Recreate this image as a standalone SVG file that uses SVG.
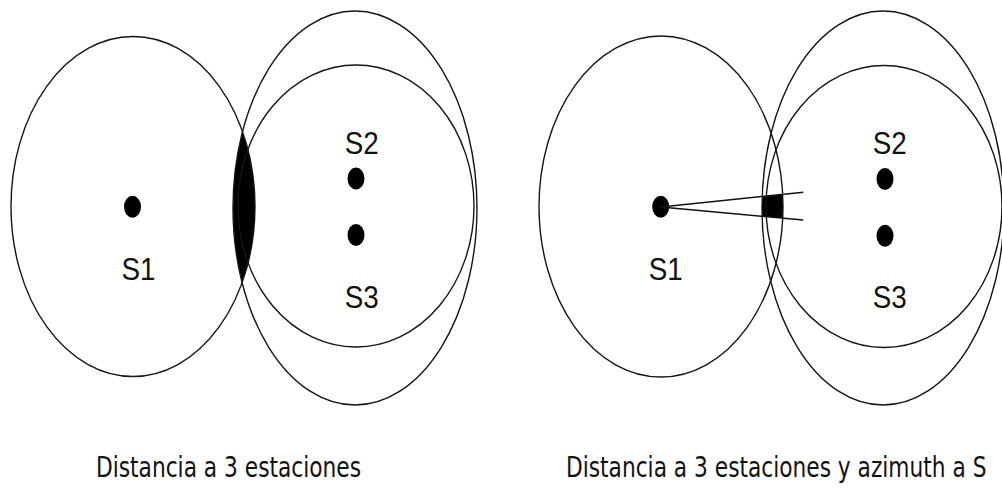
<svg xmlns="http://www.w3.org/2000/svg" width="1002" height="488" viewBox="0 0 1002 488">
  <style>
    .ring { fill: none; stroke: #151515; stroke-width: 1.4; }
    .dot { fill: #000; }
    .lbl { font-family: "Liberation Sans", Arial, sans-serif; font-size: 31px; fill: #111; }
    .cap { font-family: "DejaVu Sans", Verdana, sans-serif; font-size: 28px; fill: #111; }
    .ray { stroke: #111; stroke-width: 1.5; fill: none; }
  </style>
  <defs>
    <clipPath id="clipS1L"><ellipse cx="133" cy="206.5" rx="122" ry="170"/></clipPath>
    <clipPath id="clipS1R"><ellipse cx="661" cy="206.5" rx="122" ry="170.5"/></clipPath>
    <clipPath id="clipS2R"><ellipse cx="883" cy="208" rx="121" ry="197"/></clipPath>
  </defs>
  <rect width="1002" height="488" fill="#fff"/>

  <g id="panel-left">
    <g id="lens-left">
      <ellipse cx="355" cy="208" rx="122" ry="197" fill="#000" clip-path="url(#clipS1L)"/>
    </g>
    <g id="L-S1">
      <ellipse class="ring" cx="133" cy="206.5" rx="122" ry="170"/>
      <ellipse class="dot" cx="132.5" cy="206.7" rx="8.5" ry="11"/>
      <text class="lbl" x="121.4" y="279.5" textLength="34" lengthAdjust="spacingAndGlyphs">S1</text>
    </g>
    <g id="L-S2">
      <ellipse class="ring" cx="355" cy="208" rx="122" ry="197"/>
      <ellipse class="dot" cx="356" cy="178.5" rx="8.5" ry="11"/>
      <text class="lbl" x="344.7" y="153.5" textLength="34" lengthAdjust="spacingAndGlyphs">S2</text>
    </g>
    <g id="L-S3">
      <ellipse class="ring" cx="356" cy="206" rx="118" ry="141"/>
      <ellipse class="dot" cx="356" cy="235" rx="8.5" ry="11"/>
      <text class="lbl" x="344.7" y="308" textLength="34" lengthAdjust="spacingAndGlyphs">S3</text>
    </g>
    <text id="cap-left" class="cap" transform="translate(96,477.3) scale(0.776,1)">Distancia a 3 estaciones</text>
  </g>

  <g id="panel-right">
    <g id="wedge-area" clip-path="url(#clipS1R)">
      <polygon points="661,207 803,192.3 803,220" fill="#000" clip-path="url(#clipS2R)"/>
    </g>
    <g id="R-S1">
      <ellipse class="ring" cx="661" cy="206.5" rx="122" ry="170.5"/>
      <ellipse class="dot" cx="660.7" cy="206.7" rx="8.5" ry="11"/>
      <text class="lbl" x="648.7" y="280" textLength="34" lengthAdjust="spacingAndGlyphs">S1</text>
    </g>
    <g id="R-S2">
      <ellipse class="ring" cx="883" cy="208" rx="121" ry="197"/>
      <ellipse class="dot" cx="885" cy="179" rx="8.5" ry="11"/>
      <text class="lbl" x="872.7" y="154" textLength="34" lengthAdjust="spacingAndGlyphs">S2</text>
    </g>
    <g id="R-S3">
      <ellipse class="ring" cx="884" cy="206.5" rx="118" ry="141"/>
      <ellipse class="dot" cx="885" cy="235.7" rx="8.5" ry="11"/>
      <text class="lbl" x="872.7" y="308" textLength="34" lengthAdjust="spacingAndGlyphs">S3</text>
    </g>
    <g id="connectors">
      <line class="ray" x1="661" y1="207" x2="803.3" y2="192.3"/>
      <line class="ray" x1="661" y1="207" x2="803.3" y2="220"/>
    </g>
    <text id="cap-right" class="cap" transform="translate(566,477.3) scale(0.776,1)">Distancia a 3 estaciones y azimuth a S</text>
  </g>
</svg>
